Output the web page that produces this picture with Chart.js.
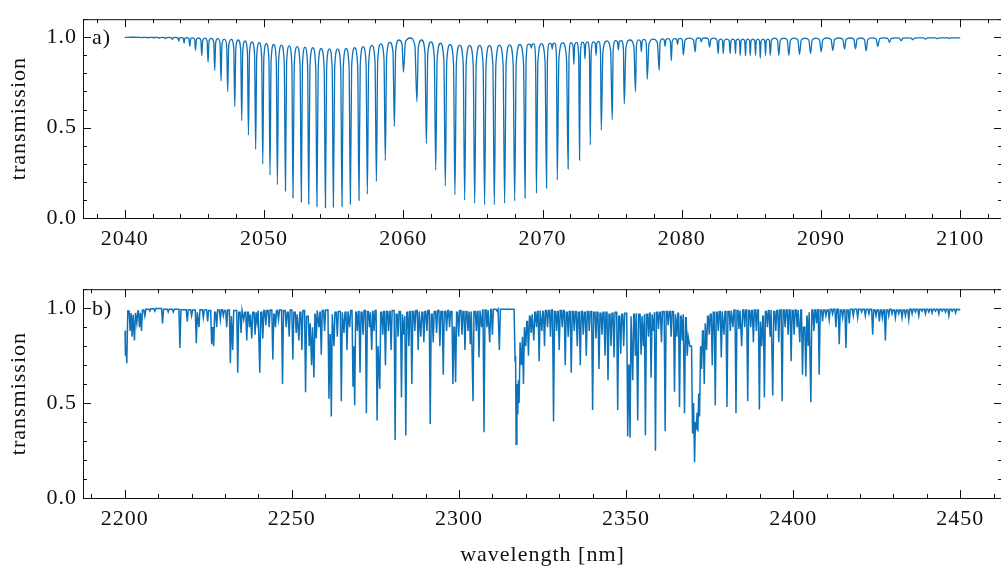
<!DOCTYPE html>
<html lang="en">
<head>
<meta charset="UTF-8">
<title>Transmission spectra</title>
<script src="https://cdn.jsdelivr.net/npm/chart.js@4.4.1/dist/chart.umd.min.js"></script>
<style>
  html, body { margin: 0; padding: 0; background: #fff; overflow: hidden; width: 1001px; height: 577px; }
  canvas { position: absolute; left: 0; }
  #chartA { top: 0; }
  #chartB { top: 270px; }
</style>
</head>
<body>
<canvas id="chartA" width="1010" height="262"></canvas>
<canvas id="chartB" width="1010" height="307"></canvas>
<script>
// ---- panel a) : line centres [nm], line minima and local top level (left of each line)
const aStart = [2040, 0.999];
const aEnd = [2100, 0.997];
const aCenter = [
  2041.2, 2041.7, 2042.1, 2042.46, 2042.92, 2043.42, 2043.88, 2044.26, 2044.67, 2045.08,
  2045.53, 2045.98, 2046.46, 2046.91, 2047.39, 2047.90, 2048.40, 2048.88, 2049.40, 2049.91,
  2050.43, 2050.96, 2051.54, 2052.08, 2052.68, 2053.21, 2053.80, 2054.41, 2054.98, 2055.60,
  2056.20, 2056.82, 2057.42, 2058.07, 2058.71, 2059.36, 2060.01, 2060.98, 2061.66, 2062.33,
  2063.02, 2063.71, 2064.41, 2065.13, 2065.84, 2066.54, 2067.28, 2068.00, 2068.75, 2069.20,
  2069.56, 2070.29, 2070.70, 2071.06, 2071.84, 2072.25, 2072.66, 2073.05, 2073.43, 2073.85,
  2074.22, 2075.01, 2075.45, 2075.87, 2076.68, 2077.10, 2077.52, 2078.38, 2078.80, 2079.25,
  2079.70, 2080.11, 2080.97, 2081.40, 2082.00, 2082.62, 2082.98, 2083.48, 2083.86, 2084.20,
  2084.58, 2084.92, 2085.30, 2085.64, 2086.02, 2086.35, 2086.97, 2087.69, 2088.46, 2089.25,
  2090.01, 2090.85, 2091.69, 2092.48, 2093.24, 2094.08, 2094.92, 2095.76, 2096.59, 2097.50,
  2098.36, 2099.22
];
const aMin = [
  0.998, 0.997, 0.996, 0.994, 0.992, 0.988, 0.979, 0.967, 0.950, 0.928,
  0.898, 0.862, 0.816, 0.759, 0.699, 0.617, 0.538, 0.459, 0.379, 0.300,
  0.237, 0.184, 0.149, 0.111, 0.089, 0.077, 0.063, 0.057, 0.060, 0.063,
  0.077, 0.098, 0.132, 0.201, 0.318, 0.507, 0.807, 0.644, 0.412, 0.266,
  0.177, 0.129, 0.099, 0.082, 0.074, 0.074, 0.082, 0.095, 0.110, 0.940,
  0.137, 0.166, 0.935, 0.211, 0.272, 0.850, 0.320, 0.880, 0.404, 0.900,
  0.486, 0.544, 0.930, 0.632, 0.699, 0.920, 0.768, 0.816, 0.950, 0.871,
  0.960, 0.902, 0.919, 0.975, 0.945, 0.910, 0.910, 0.910, 0.910, 0.900,
  0.897, 0.900, 0.900, 0.885, 0.900, 0.900, 0.900, 0.900, 0.905, 0.910,
  0.920, 0.928, 0.935, 0.936, 0.925, 0.950, 0.972, 0.980, 0.986, 0.990,
  0.992, 0.994
];
const aTop = [
  1.000, 0.999, 0.999, 0.999, 0.999, 0.999, 0.999, 0.998, 0.998, 0.997,
  0.996, 0.995, 0.994, 0.992, 0.990, 0.988, 0.985, 0.980, 0.975, 0.970,
  0.965, 0.960, 0.957, 0.952, 0.948, 0.945, 0.942, 0.938, 0.936, 0.936,
  0.938, 0.942, 0.948, 0.955, 0.963, 0.972, 0.985, 0.996, 0.985, 0.975,
  0.967, 0.960, 0.957, 0.955, 0.955, 0.955, 0.956, 0.958, 0.960, 0.962,
  0.963, 0.965, 0.966, 0.968, 0.970, 0.970, 0.972, 0.973, 0.975, 0.975,
  0.977, 0.980, 0.981, 0.982, 0.985, 0.986, 0.988, 0.990, 0.991, 0.992,
  0.993, 0.994, 0.995, 0.996, 0.996, 0.995, 0.990, 0.990, 0.990, 0.990,
  0.990, 0.990, 0.990, 0.990, 0.990, 0.990, 0.995, 0.995, 0.995, 0.995,
  0.995, 0.996, 0.996, 0.996, 0.996, 0.997, 0.997, 0.997, 0.997, 0.997,
  0.997, 0.997
];

// ---- panel b)
const bStart = [2200, 0.88];
const bEnd = [2450, 0.995];
const bCenter = [
  2200.2, 2200.6, 2201.6, 2202.2, 2202.9, 2203.6, 2204.4, 2205.0, 2206.0, 2207.5,
  2209.0, 2211.3, 2213.0, 2214.5, 2216.5, 2218.7, 2220.0, 2221.4, 2222.2, 2223.5,
  2224.8, 2226.0, 2226.6, 2227.5, 2228.6, 2229.5, 2230.5, 2231.6, 2232.3, 2233.8,
  2234.8, 2235.6, 2236.5, 2237.3, 2238.0, 2239.0, 2239.6, 2240.4, 2241.3, 2242.2,
  2243.2, 2244.3, 2245.1, 2246.0, 2247.2, 2248.3, 2249.2, 2250.3, 2251.3, 2252.1,
  2253.0, 2254.1, 2255.2, 2255.9, 2256.6, 2257.3, 2258.1, 2258.8, 2259.8, 2261.1,
  2261.8, 2262.6, 2263.6, 2264.8, 2265.6, 2266.5, 2267.3, 2268.3, 2268.8, 2269.6,
  2270.4, 2271.3, 2272.3, 2273.2, 2273.9, 2274.6, 2275.5, 2276.3, 2277.2, 2278.0,
  2278.9, 2279.7, 2280.9, 2281.8, 2282.8, 2283.5, 2284.1, 2285.0, 2285.9, 2286.8,
  2287.8, 2288.6, 2289.5, 2290.4, 2291.4, 2292.3, 2293.3, 2294.3, 2295.3, 2296.3,
  2297.2, 2298.2, 2299.0, 2299.9, 2300.9, 2301.8, 2302.7, 2303.4, 2304.2, 2305.2,
  2306.0, 2306.8, 2307.5, 2308.4, 2309.2, 2310.0, 2311.4, 2312.1, 2316.8, 2317.1,
  2317.6, 2318.0, 2318.7, 2319.3, 2320.0, 2320.8, 2321.6, 2322.4, 2323.2, 2324.0,
  2324.8, 2325.6, 2326.5, 2327.4, 2328.3, 2329.2, 2330.0, 2330.9, 2331.8, 2332.7,
  2333.6, 2334.5, 2335.4, 2336.3, 2337.2, 2338.1, 2339.0, 2340.0, 2341.0, 2341.9,
  2342.8, 2343.7, 2344.6, 2345.5, 2346.4, 2347.5, 2348.4, 2349.3, 2350.5, 2351.2,
  2352.0, 2352.8, 2353.5, 2354.5, 2355.2, 2355.8, 2356.7, 2357.5, 2358.2, 2358.8,
  2359.7, 2360.6, 2361.7, 2362.6, 2363.5, 2364.5, 2365.2, 2366.0, 2366.8, 2367.5,
  2368.3, 2369.1, 2369.9, 2370.5, 2371.0, 2371.5, 2372.0, 2372.6, 2373.4, 2374.1,
  2374.9, 2375.8, 2376.7, 2377.6, 2378.5, 2379.3, 2380.2, 2381.2, 2382.0, 2382.9,
  2383.8, 2384.6, 2385.5, 2386.4, 2387.3, 2388.1, 2389.0, 2389.9, 2390.6, 2391.4,
  2392.3, 2393.1, 2393.9, 2394.8, 2395.7, 2396.7, 2397.6, 2398.5, 2399.4, 2400.3,
  2401.2, 2402.0, 2402.8, 2403.8, 2404.5, 2405.3, 2406.2, 2407.0, 2407.8, 2408.8,
  2409.8, 2410.8, 2411.8, 2412.8, 2413.8, 2414.8, 2415.8, 2416.8, 2418.0, 2419.3,
  2420.5, 2421.6, 2422.7, 2423.8, 2424.8, 2425.8, 2426.7, 2427.6, 2428.6, 2429.6,
  2430.6, 2431.6, 2432.6, 2433.6, 2434.6, 2435.6, 2436.6, 2437.6, 2438.6, 2439.6,
  2440.6, 2441.6, 2442.6, 2443.6, 2444.6, 2445.6, 2446.6, 2447.6, 2448.6, 2449.5
];
const bMin = [
  0.75, 0.71, 0.88, 0.85, 0.83, 0.92, 0.90, 0.88, 0.96, 0.985,
  0.985, 0.92, 0.98, 0.98, 0.79, 0.93, 0.96, 0.815, 0.90, 0.95,
  0.93, 0.81, 0.80, 0.90, 0.94, 0.96, 0.90, 0.71, 0.78, 0.66,
  0.87, 0.94, 0.83, 0.90, 0.84, 0.86, 0.93, 0.66, 0.84, 0.91,
  0.90, 0.73, 0.90, 0.94, 0.60, 0.90, 0.85, 0.73, 0.87, 0.83,
  0.78, 0.557, 0.80, 0.70, 0.635, 0.84, 0.90, 0.755, 0.88, 0.523,
  0.43, 0.80, 0.85, 0.51, 0.87, 0.78, 0.90, 0.59, 0.489, 0.88,
  0.66, 0.86, 0.446, 0.90, 0.78, 0.88, 0.408, 0.575, 0.86, 0.70,
  0.88, 0.78, 0.305, 0.85, 0.53, 0.86, 0.329, 0.80, 0.60, 0.88,
  0.78, 0.85, 0.82, 0.88, 0.39, 0.82, 0.87, 0.80, 0.65, 0.88,
  0.90, 0.60, 0.61, 0.85, 0.86, 0.78, 0.88, 0.81, 0.51, 0.88,
  0.74, 0.90, 0.346, 0.90, 0.82, 0.86, 0.985, 0.78, 0.72, 0.283,
  0.44, 0.50, 0.70, 0.60, 0.80, 0.75, 0.87, 0.83, 0.90, 0.72,
  0.88, 0.80, 0.90, 0.85, 0.403, 0.88, 0.78, 0.90, 0.70, 0.85,
  0.66, 0.88, 0.80, 0.70, 0.86, 0.75, 0.88, 0.463, 0.84, 0.68,
  0.86, 0.75, 0.62, 0.80, 0.74, 0.463, 0.76, 0.80, 0.326, 0.317,
  0.62, 0.75, 0.408, 0.755, 0.80, 0.33, 0.85, 0.634, 0.88, 0.249,
  0.89, 0.82, 0.352, 0.91, 0.85, 0.56, 0.85, 0.48, 0.83, 0.446,
  0.75, 0.80, 0.34, 0.188, 0.36, 0.35, 0.43, 0.68, 0.60, 0.78,
  0.86, 0.70, 0.488, 0.88, 0.74, 0.86, 0.48, 0.88, 0.90, 0.446,
  0.89, 0.80, 0.90, 0.51, 0.90, 0.82, 0.88, 0.466, 0.80, 0.53,
  0.90, 0.85, 0.54, 0.88, 0.82, 0.51, 0.90, 0.86, 0.72, 0.86,
  0.90, 0.82, 0.65, 0.64, 0.80, 0.505, 0.88, 0.92, 0.65, 0.93,
  0.96, 0.94, 0.97, 0.90, 0.81, 0.95, 0.79, 0.92, 0.96, 0.95,
  0.98, 0.96, 0.97, 0.86, 0.96, 0.93, 0.95, 0.83, 0.96, 0.97,
  0.95, 0.97, 0.95, 0.96, 0.94, 0.97, 0.98, 0.96, 0.985, 0.97,
  0.98, 0.975, 0.985, 0.97, 0.985, 0.98, 0.96, 0.985, 0.975, 0.99
];
const bTop = [
  0.88, 0.80, 0.985, 0.975, 0.965, 0.975, 0.985, 0.975, 0.99, 0.995,
  0.997, 0.998, 0.995, 0.995, 0.995, 0.992, 0.992, 0.99, 0.978, 0.992,
  0.99, 0.988, 0.90, 0.978, 0.99, 0.992, 0.988, 0.99, 0.958, 0.988,
  0.978, 0.988, 0.978, 0.978, 0.968, 0.978, 0.978, 0.988, 0.978, 0.988,
  0.988, 0.99, 0.968, 0.988, 0.99, 0.988, 0.978, 0.99, 0.978, 0.968,
  0.978, 0.988, 0.958, 0.92, 0.90, 0.968, 0.988, 0.978, 0.988, 0.99,
  0.86, 0.968, 0.978, 0.983, 0.978, 0.978, 0.983, 0.988, 0.80, 0.978,
  0.983, 0.978, 0.988, 0.983, 0.978, 0.983, 0.988, 0.80, 0.978, 0.983,
  0.983, 0.983, 0.988, 0.968, 0.983, 0.968, 0.958, 0.978, 0.983, 0.983,
  0.988, 0.983, 0.978, 0.983, 0.988, 0.968, 0.983, 0.988, 0.983, 0.983,
  0.988, 0.983, 0.90, 0.978, 0.988, 0.983, 0.983, 0.978, 0.983, 0.983,
  0.983, 0.988, 0.99, 0.99, 0.99, 0.993, 0.995, 0.995, 0.995, 0.75,
  0.60, 0.62, 0.82, 0.85, 0.90, 0.93, 0.958, 0.968, 0.978, 0.983,
  0.988, 0.983, 0.988, 0.988, 0.99, 0.983, 0.983, 0.988, 0.988, 0.978,
  0.983, 0.983, 0.983, 0.978, 0.983, 0.978, 0.983, 0.983, 0.978, 0.978,
  0.973, 0.978, 0.978, 0.968, 0.973, 0.978, 0.958, 0.968, 0.973, 0.70,
  0.958, 0.968, 0.973, 0.968, 0.958, 0.968, 0.968, 0.973, 0.968, 0.978,
  0.978, 0.978, 0.983, 0.983, 0.983, 0.983, 0.968, 0.973, 0.958, 0.968,
  0.95, 0.85, 0.80, 0.50, 0.40, 0.45, 0.55, 0.80, 0.88, 0.92,
  0.958, 0.968, 0.978, 0.978, 0.983, 0.983, 0.983, 0.983, 0.988, 0.99,
  0.988, 0.988, 0.99, 0.99, 0.988, 0.988, 0.99, 0.99, 0.93, 0.958,
  0.983, 0.988, 0.99, 0.983, 0.988, 0.99, 0.99, 0.99, 0.99, 0.988,
  0.99, 0.99, 0.99, 0.90, 0.958, 0.978, 0.99, 0.99, 0.992, 0.99,
  0.99, 0.99, 0.995, 0.995, 0.995, 0.99, 0.99, 0.99, 0.995, 0.995,
  0.995, 0.995, 0.995, 0.995, 0.99, 0.99, 0.99, 0.99, 0.99, 0.995,
  0.99, 0.99, 0.99, 0.99, 0.99, 0.995, 0.995, 0.995, 0.995, 0.995,
  0.995, 0.995, 0.995, 0.995, 0.995, 0.995, 0.995, 0.995, 0.995, 0.995
];

// axis ticks
const aXTicks = [2040, 2050, 2060, 2070, 2080, 2090, 2100];
const bXTicks = [2200, 2250, 2300, 2350, 2400, 2450];
const yTicks = [0.0, 0.5, 1.0];

const LINE = '#0C72BA';
const INK = '#111';
const FONT = "'Liberation Serif', 'DejaVu Serif', serif";
const FSIZE = 22;

// panel a: each line drawn as a rounded arch top falling into a narrow dip
// (shoulder at the local top, a knee close to the centre, the minimum at the centre)
const KNEE_X = 0.3, KNEE_Y = 0.12;
function buildArches(start, end, centers, mins, tops) {
  const pts = [{ x: start[0], y: start[1] }];
  const n = centers.length;
  for (let i = 0; i < n; i++) {
    const c = centers[i];
    const gl = (c - (i > 0 ? centers[i - 1] : start[0])) / 2;
    const gr = ((i < n - 1 ? centers[i + 1] : end[0]) - c) / 2;
    const after = i < n - 1 ? tops[i + 1] : end[1];
    pts.push({ x: c - gl, y: tops[i] });
    pts.push({ x: c - KNEE_X * gl, y: tops[i] - KNEE_Y * (tops[i] - mins[i]) });
    pts.push({ x: c, y: mins[i] });
    pts.push({ x: c + KNEE_X * gr, y: after - KNEE_Y * (after - mins[i]) });
    if (i === n - 1) pts.push({ x: c + gr, y: after });
  }
  pts.push({ x: end[0], y: end[1] });
  return pts;
}

// panel b: narrow dips on a local continuum level
function buildDips(start, end, centers, mins, tops, halfWidth) {
  const pts = [{ x: start[0], y: start[1] }];
  const n = centers.length;
  for (let i = 0; i < n; i++) {
    const c = centers[i];
    const prev = i > 0 ? centers[i - 1] : start[0];
    const next = i < n - 1 ? centers[i + 1] : end[0];
    const left = Math.max(c - halfWidth, (prev + c) / 2);
    const midR = (c + next) / 2;
    const right = Math.min(c + halfWidth, midR);
    pts.push({ x: left, y: tops[i] });
    pts.push({ x: c, y: mins[i] });
    if (right < midR) pts.push({ x: right, y: i < n - 1 ? tops[i + 1] : end[1] });
  }
  pts.push({ x: end[0], y: end[1] });
  return pts;
}

function range(a, b, step) {
  const out = [];
  for (let v = a; v <= b + 1e-9; v += step) out.push(+v.toFixed(4));
  return out;
}

// frame with inward ticks on all four sides, plus panel letter
const framePlugin = {
  id: 'frame',
  beforeDraw(chart) {
    chart.ctx.letterSpacing = '1px';
  },
  afterDraw(chart, args, opts) {
    const { ctx, chartArea: a, scales: { x, y } } = chart;
    ctx.save();
    ctx.strokeStyle = INK;
    ctx.lineWidth = 1;
    ctx.strokeRect(a.left + 0.5, a.top + 0.5, a.right - a.left, a.bottom - a.top);
    const xt = (v, len) => {
      const p = Math.round(x.getPixelForValue(v)) + 0.5;
      if (p < a.left || p > a.right + 1) return;
      ctx.beginPath();
      ctx.moveTo(p, a.bottom); ctx.lineTo(p, a.bottom - len);
      ctx.moveTo(p, a.top); ctx.lineTo(p, a.top + len);
      ctx.stroke();
    };
    const yt = (v, len) => {
      const p = Math.round(y.getPixelForValue(v)) + 0.5;
      ctx.beginPath();
      ctx.moveTo(a.left, p); ctx.lineTo(a.left + len, p);
      ctx.moveTo(a.right, p); ctx.lineTo(a.right - len, p);
      ctx.stroke();
    };
    opts.xMinor.forEach(v => xt(v, 4));
    opts.xMajor.forEach(v => xt(v, 8));
    range(0, 1.1, 0.1).forEach(v => yt(v, 4));
    yTicks.forEach(v => yt(v, 8));
    ctx.fillStyle = INK;
    ctx.font = FSIZE + 'px ' + FONT;
    ctx.textBaseline = 'middle';
    ctx.textAlign = 'left';
    ctx.fillText(opts.label, a.left + 9, y.getPixelForValue(1.0) + 1);
    ctx.restore();
  }
};

function makeChart(id, pts, cfg) {
  return new Chart(document.getElementById(id), {
    type: 'line',
    data: {
      datasets: [{
        data: pts,
        borderColor: LINE,
        borderWidth: cfg.lineWidth,
        pointRadius: 0,
        cubicInterpolationMode: cfg.smooth ? 'monotone' : 'default',
        tension: 0,
        fill: false
      }]
    },
    options: {
      responsive: false,
      animation: false,
      devicePixelRatio: 1,
      layout: { padding: { left: 0, right: 8, top: cfg.padTop, bottom: 0 } },
      plugins: {
        legend: { display: false },
        tooltip: { enabled: false },
        frame: { label: cfg.label, xMajor: cfg.xTicks, xMinor: cfg.xMinor }
      },
      scales: {
        x: {
          type: 'linear',
          min: cfg.xMin,
          max: cfg.xMax,
          afterBuildTicks: s => { s.ticks = cfg.xTicks.map(v => ({ value: v })); },
          afterFit: s => { s.height = cfg.xHeight; },
          grid: { display: false, drawTicks: false },
          border: { display: false },
          ticks: {
            color: INK, padding: 8, maxRotation: 0, autoSkip: false,
            font: { family: FONT, size: FSIZE },
            callback: v => String(v)
          },
          title: {
            display: cfg.xTitle,
            text: 'wavelength [nm]',
            color: INK,
            font: { family: FONT, size: FSIZE },
            padding: { top: 0, bottom: 9 }
          }
        },
        y: {
          min: 0,
          max: 1.1,
          afterBuildTicks: s => { s.ticks = yTicks.map(v => ({ value: v })); },
          afterFit: s => { s.width = 83; },
          grid: { display: false, drawTicks: false },
          border: { display: false },
          ticks: {
            color: INK, padding: 6,
            font: { family: FONT, size: FSIZE },
            callback: v => v.toFixed(1)
          },
          title: {
            display: true,
            text: 'transmission',
            color: INK,
            font: { family: FONT, size: FSIZE },
            padding: { top: 6, bottom: 0 }
          }
        }
      }
    },
    plugins: [framePlugin]
  });
}

makeChart('chartA', buildArches(aStart, aEnd, aCenter, aMin, aTop), {
  label: 'a)', xMin: 2037, xMax: 2103, xTicks: aXTicks, xMinor: range(2038, 2102, 2),
  padTop: 4, xHeight: 44, xTitle: false, smooth: true, lineWidth: 1.3
});
makeChart('chartB', buildDips(bStart, bEnd, bCenter, bMin, bTop, 0.3), {
  label: 'b)', xMin: 2187.5, xMax: 2462.5, xTicks: bXTicks, xMinor: range(2190, 2460, 10),
  padTop: 14, xHeight: 79, xTitle: true, smooth: false, lineWidth: 1.5
});
</script>
</body>
</html>
